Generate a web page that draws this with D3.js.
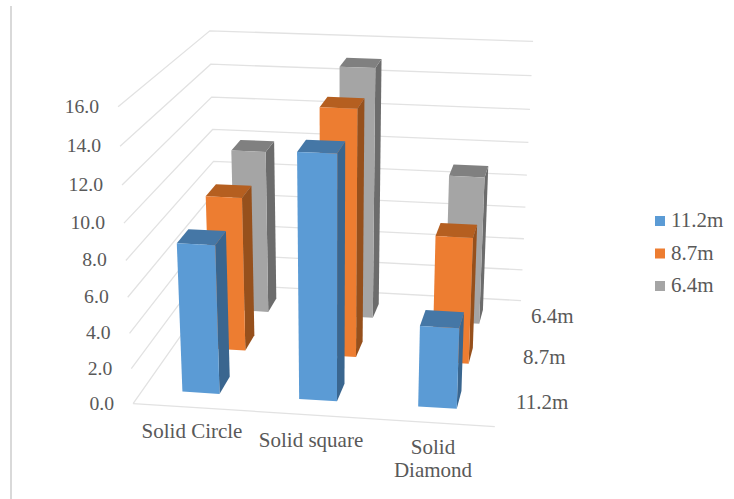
<!DOCTYPE html>
<html><head><meta charset="utf-8">
<style>html,body{margin:0;padding:0;background:#fff}svg{display:block}text{font-family:"Liberation Serif",serif;fill:#595959;font-size:21px}text.tick{font-size:19.7px}</style>
<script src="https://cdn.jsdelivr.net/npm/d3@7"></script></head>
<body><svg id="c" width="734" height="499"></svg>
<script>
const categories = ["Solid Circle", "Solid square", "Solid Diamond"];
const seriesNames = ["11.2m", "8.7m", "6.4m"];
const values112 = [8.4, 13.55, 4.55];
const values87 = [9.05, 14.3, 7.4];
const values64 = [9.95, 15.1, 9.0];
const yTicks = [0, 2, 4, 6, 8, 10, 12, 14, 16];
const seriesValues = [values112, values87, values64];
const faceColors = [
  {front:"#5B9BD5", side:"#3A668F", top:"#4577A6"},
  {front:"#ED7D31", side:"#96501C", top:"#B55F20"},
  {front:"#A5A5A5", side:"#6C6C6C", top:"#808080"}];

// Projection of the 3D chart box, fitted from its visible corners
const frame = [
  [0,0,0,133,402],[3,0,0,495,428],[3,3,0,521,299],[0,3,0,217,286],
  [0,0,16,118,107],[0,3,16,210,30],[3,3,16,533,42]];
function fitProjection(pts){
  const A=[],B=[];
  pts.forEach(([x,z,y,u,v])=>{
    A.push([x,z,y,1,0,0,0,0,-u*x,-u*z,-u*y]);B.push(u);
    A.push([0,0,0,0,x,z,y,1,-v*x,-v*z,-v*y]);B.push(v);});
  const n=11,M=d3.range(n).map(i=>d3.range(n+1).map(j=>{
    let s=0;A.forEach((r,k)=>{s+=r[i]*(j<n?r[j]:B[k]);});return s;}));
  for(let i=0;i<n;i++){
    let p=i;for(let r=i+1;r<n;r++)if(Math.abs(M[r][i])>Math.abs(M[p][i]))p=r;
    [M[i],M[p]]=[M[p],M[i]];
    for(let r=0;r<n;r++)if(r!==i){const f=M[r][i]/M[i][i];for(let c=i;c<=n;c++)M[r][c]-=f*M[i][c];}
  }
  return M.map((r,i)=>r[n]/r[i]);
}
const h=fitProjection(frame);
function P(x,z,y){const w=h[8]*x+h[9]*z+h[10]*y+1;
  return [(h[0]*x+h[1]*z+h[2]*y+h[3])/w,(h[4]*x+h[5]*z+h[6]*y+h[7])/w];}

const xScale=d3.scaleBand().domain(categories).range([0,3]).paddingInner(0.68).paddingOuter(0.34);
const zScale=d3.scaleBand().domain(seriesNames).range([0,3]).paddingInner(0.62).paddingOuter(0.31);
const yScale=d3.scaleLinear().domain([0,16]).range([0,16]);

const svg=d3.select("#c");
const line=d3.line();
svg.append("line").attr("x1",11).attr("x2",11).attr("y1",6).attr("y2",499).attr("stroke","#D9D9D9").attr("stroke-width",2);

// gridlines
const grid=svg.append("g").attr("fill","none").attr("stroke","#E2E2E2").attr("stroke-width",1.3);
yTicks.forEach(t=>{
  const y=yScale(t);
  grid.append("path").attr("d",line([P(0,0,y),P(0,3,y),P(3,3,y)]));
});
grid.append("path").attr("d",line([P(0,0,0),P(3,0,0)]));

// bars, back row first
const bars=svg.append("g");
d3.range(seriesNames.length).reverse().forEach(si=>{
  const z0=zScale(seriesNames[si]),z1=z0+zScale.bandwidth();
  categories.forEach((c,ci)=>{
    const x0=xScale(c),x1=x0+xScale.bandwidth(),v=yScale(seriesValues[si][ci]),col=faceColors[si];
    const g=bars.append("g");
    g.append("path").attr("fill",col.side).attr("d",line([P(x1,z0,0),P(x1,z1,0),P(x1,z1,v),P(x1,z0,v)])+"Z");
    g.append("path").attr("fill",col.top).attr("d",line([P(x0,z0,v),P(x1,z0,v),P(x1,z1,v),P(x0,z1,v)])+"Z");
    g.append("path").attr("fill",col.front).attr("d",line([P(x0,z0,0),P(x1,z0,0),P(x1,z0,v),P(x0,z0,v)])+"Z");
  });
});

// value axis labels
yTicks.forEach(t=>{
  const p=P(0,0,yScale(t));
  svg.append("text").attr("class","tick").attr("x",p[0]-19).attr("y",p[1]+6).attr("text-anchor","end").text(d3.format(".1f")(t));
});
// category labels
const catLabelPos=[[192,438],[311,447],[433,454]];
categories.forEach((c,i)=>{
  const t=svg.append("text").attr("x",catLabelPos[i][0]).attr("y",catLabelPos[i][1]).attr("text-anchor","middle");
  if(c==="Solid Diamond"){
    t.append("tspan").attr("x",catLabelPos[i][0]).text("Solid");
    t.append("tspan").attr("x",catLabelPos[i][0]).attr("dy",23).text("Diamond");
  } else t.text(c);
});
// depth labels
const depthLabelPos=[[516,409],[523,364],[531,323]];
seriesNames.forEach((s,i)=>svg.append("text").attr("x",depthLabelPos[i][0]).attr("y",depthLabelPos[i][1]).text(s));
// legend
seriesNames.forEach((s,i)=>{
  const y=221+32.5*i;
  svg.append("rect").attr("x",655).attr("y",y-5).attr("width",10).attr("height",10).attr("fill",faceColors[i].front);
  svg.append("text").attr("x",671).attr("y",y+6).text(s);
});
</script></body></html>
